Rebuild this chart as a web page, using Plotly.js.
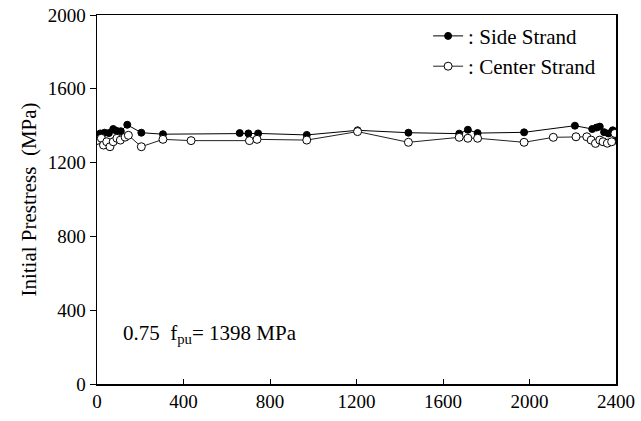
<!DOCTYPE html>
<html>
<head>
<meta charset="utf-8">
<script src="https://cdn.plot.ly/plotly-3.0.1.min.js"></script>
<style>html,body{margin:0;padding:0;background:#fff;}#chart{width:641px;height:421px;}</style>
</head>
<body>
<div id="chart"></div>
<script>
// Side strand (filled circles)
const sideX = [15, 35, 55, 75, 90, 110, 140, 205, 305, 660, 700, 745, 970, 1205, 1440, 1675, 1715, 1760, 1975, 2210, 2290, 2310, 2325, 2345, 2365, 2385, 2400];
const sideY = [1358, 1362, 1360, 1382, 1372, 1370, 1405, 1362, 1354, 1360, 1358, 1358, 1350, 1375, 1362, 1357, 1378, 1360, 1364, 1400, 1382, 1390, 1395, 1365, 1358, 1375, 1320];
// Center strand (open circles)
const centerX = [0, 20, 30, 45, 60, 75, 92, 108, 130, 145, 205, 305, 435, 705, 740, 970, 1205, 1440, 1675, 1715, 1760, 1975, 2110, 2215, 2265, 2285, 2305, 2325, 2340, 2360, 2380, 2395];
const centerY = [1320, 1332, 1295, 1313, 1286, 1313, 1332, 1322, 1338, 1348, 1286, 1326, 1319, 1319, 1326, 1322, 1368, 1310, 1337, 1332, 1332, 1310, 1337, 1340, 1340, 1322, 1304, 1322, 1313, 1305, 1313, 1358];
const seriesNames = [': Side Strand', ': Center Strand'];
const xTicks = [0, 400, 800, 1200, 1600, 2000, 2400];
const yTicks = [0, 400, 800, 1200, 1600, 2000];
const noteText = '0.75  f<sub>pu</sub>= 1398 MPa';

const font = 'Liberation Serif, Times New Roman, serif';
const traces = [
  {x: sideX, y: sideY, name: seriesNames[0], mode: 'lines+markers', type: 'scatter',
   line: {color: '#000', width: 1},
   marker: {symbol: 'circle', size: 7, color: '#000', line: {color: '#000', width: 1}}},
  {x: centerX, y: centerY, name: seriesNames[1], mode: 'lines+markers', type: 'scatter',
   line: {color: '#222', width: 1},
   marker: {symbol: 'circle', size: 8, color: '#fff', line: {color: '#000', width: 1}}}
];
const layout = {
  width: 641, height: 421,
  margin: {l: 97, r: 25, t: 15, b: 37},
  paper_bgcolor: '#fff', plot_bgcolor: '#fff',
  font: {family: font, size: 19, color: '#000'},
  showlegend: true,
  legend: {x: 0.638, y: 0.998, xanchor: 'left', yanchor: 'top', bgcolor: 'rgba(0,0,0,0)',
           font: {family: font, size: 21, color: '#000'}, itemwidth: 30, tracegroupgap: 0},
  xaxis: {range: [0, 2400], tickvals: xTicks, ticktext: xTicks.map(String),
          showgrid: false, zeroline: false, showline: true, linecolor: '#000', linewidth: 1.5,
          mirror: true, ticks: 'inside', ticklen: 5, tickcolor: '#000',
          tickfont: {family: font, size: 19, color: '#000'}},
  yaxis: {range: [0, 2000], tickvals: yTicks, ticktext: yTicks.map(String),
          showgrid: false, zeroline: false, showline: true, linecolor: '#000', linewidth: 1.5,
          mirror: true, ticks: 'outside', ticklen: 6, tickcolor: '#000',
          tickfont: {family: font, size: 19, color: '#000'},
          title: {text: 'Initial Prestress  (MPa)', font: {family: font, size: 21, color: '#000'}, standoff: 5}},
  annotations: [{xref: 'paper', yref: 'paper', x: 0.047, y: 0.135, xanchor: 'left', yanchor: 'middle',
                 showarrow: false, text: noteText, font: {family: font, size: 21, color: '#000'}}]
};
Plotly.newPlot('chart', traces, layout, {displayModeBar: false, staticPlot: true});
</script>
</body>
</html>
